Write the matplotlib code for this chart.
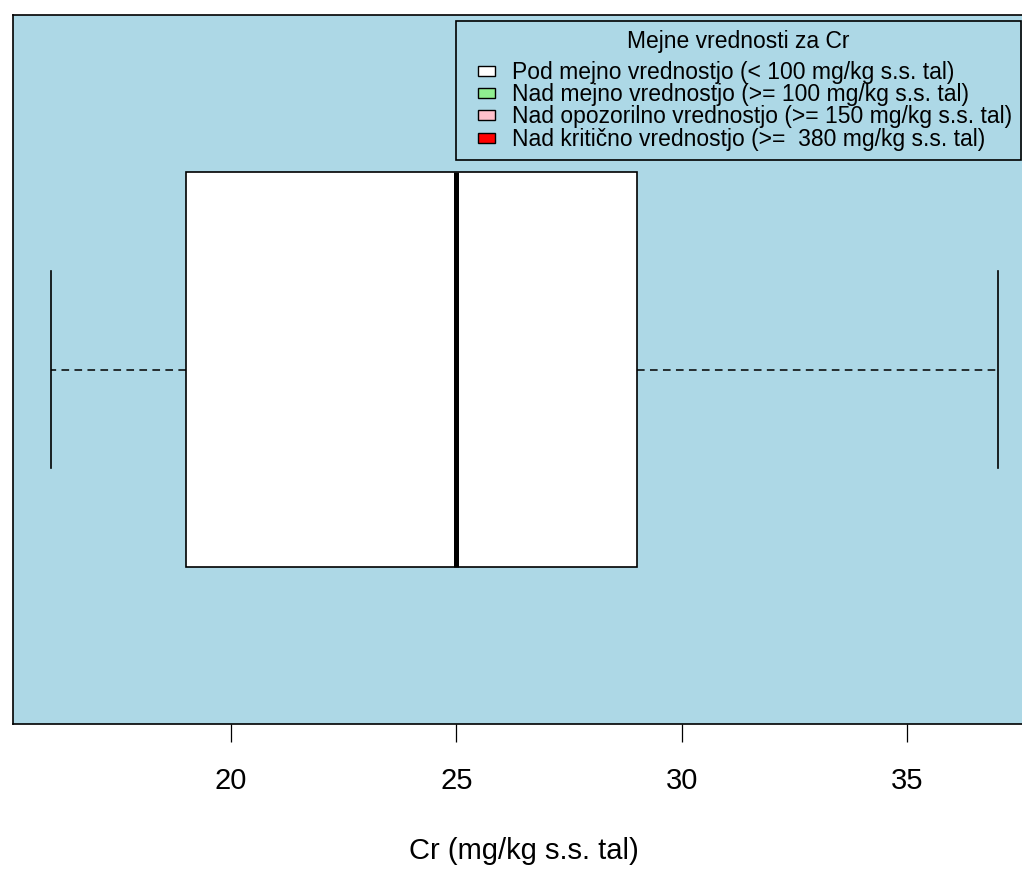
import matplotlib
matplotlib.use("Agg")
import matplotlib.pyplot as plt
from matplotlib.patches import Rectangle, Patch
from matplotlib.legend_handler import HandlerPatch
from matplotlib.offsetbox import VPacker, DrawingArea

plt.rcParams['font.family'] = ['Liberation Sans', 'DejaVu Sans']

# Five-number summary of Cr (mg/kg s.s. tal)
cr_stats = {"whislo": 16, "q1": 19, "med": 25, "q3": 29, "whishi": 37}
x_ticks = [20, 25, 30, 35]

legend_title = "Mejne vrednosti za Cr"
legend_labels = [
    "Pod mejno vrednostjo (< 100 mg/kg s.s. tal)",
    "Nad mejno vrednostjo (>= 100 mg/kg s.s. tal)",
    "Nad opozorilno vrednostjo (>= 150 mg/kg s.s. tal)",
    "Nad kritično vrednostjo (>=  380 mg/kg s.s. tal)",
]
legend_colors = ["white", "lightgreen", "pink", "red"]

W, H = 1022, 869
fig = plt.figure(figsize=(W / 100, H / 100), dpi=100)

# R-style axis range: data range padded by 4 %
span = cr_stats["whishi"] - cr_stats["whislo"]
xmin = cr_stats["whislo"] - 0.04 * span
xmax = cr_stats["whishi"] + 0.04 * span
px_per_unit = 45.1
left_px = 231 - (20 - xmin) * px_per_unit
ax = fig.add_axes([left_px / W, (H - 724) / H,
                   (xmax - xmin) * px_per_unit / W, 709 / H])
ax.set_facecolor("#ADD8E6")

bp = ax.bxp([dict(cr_stats, fliers=[])], positions=[1], widths=0.8, vert=False,
            patch_artist=True, showfliers=False,
            boxprops=dict(facecolor="white", edgecolor="black", linewidth=1.2),
            medianprops=dict(color="black", linewidth=3.6, solid_capstyle="butt"),
            whiskerprops=dict(color="black", linewidth=1.1, linestyle=(0, (5, 3.5))),
            capprops=dict(color="black", linewidth=1.2),
            capwidths=0.4)

ax.set_xlim(xmin, xmax)
ax.set_ylim(1 - 0.7175, 1 + 0.7175)
ax.set_yticks([])
ax.set_xticks(x_ticks)
ax.tick_params(axis="x", length=13, width=0.9, labelsize=21, pad=18)
for s in ax.spines.values():
    s.set_linewidth(1.2)
ax.set_xlabel("Cr (mg/kg s.s. tal)", fontsize=21, labelpad=30)


def small_box(legend, orig_handle, xdescent, ydescent, width, height, fontsize):
    # fill box ~17x10 px (points in the handle box)
    bw, bh = 12.3, 7.2
    return Rectangle((-xdescent + width - bw, -ydescent + (height - bh) / 2), bw, bh)


handles = [Patch(facecolor=c, edgecolor="black", linewidth=1.0) for c in legend_colors]
leg = ax.legend(handles, legend_labels, title=legend_title,
                loc="upper left", bbox_to_anchor=(456 / W, 1 - 21 / H),
                bbox_transform=fig.transFigure, borderaxespad=0,
                fontsize=16.5, title_fontsize=16.5, fancybox=False,
                framealpha=1, facecolor="#ADD8E6", edgecolor="black",
                handlelength=1.3, handleheight=0.7, handletextpad=0.74,
                labelspacing=-0.03, borderpad=0.4,
                handler_map={Patch: HandlerPatch(patch_func=small_box)})
leg.get_frame().set_linewidth(1.2)
# a little extra room under the legend title, as in R
leg._legend_box._children[0] = VPacker(
    children=[leg._legend_title_box, DrawingArea(1, 6)], pad=0, sep=0, align="center")

fig.savefig("out.png", dpi=100)
